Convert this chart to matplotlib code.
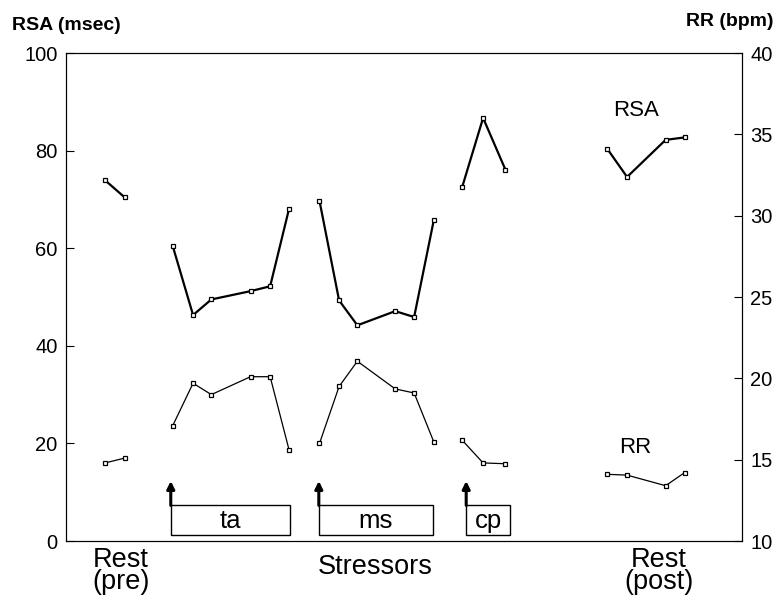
import matplotlib
matplotlib.use("Agg")
import matplotlib.pyplot as plt

plt.rcParams['font.family'] = ['Liberation Sans', 'DejaVu Sans']

# x positions (arbitrary time units, 0-100 across the axis)
x_pre = [5.8, 8.7]
x_ta = [15.8, 18.8, 21.5, 27.3, 30.2, 33.0]
x_ms = [37.5, 40.4, 43.1, 48.7, 51.5, 54.4]
x_cp = [58.6, 61.7, 65.0]
x_post = [80.1, 83.0, 88.7, 91.5]

# RSA (msec), left axis
rsa_pre = [73.9, 70.4]
rsa_ta = [60.4, 46.3, 49.5, 51.2, 52.2, 68.1]
rsa_ms = [69.7, 49.3, 44.2, 47.1, 45.9, 65.7]
rsa_cp = [72.5, 86.7, 76.1]
rsa_post = [80.3, 74.6, 82.2, 82.7]

# RR (bpm), right axis
rr_pre = [14.8, 15.1]
rr_ta = [17.1, 19.7, 19.0, 20.1, 20.1, 15.6]
rr_ms = [16.0, 19.5, 21.05, 19.35, 19.1, 16.1]
rr_cp = [16.2, 14.8, 14.75]
rr_post = [14.1, 14.05, 13.4, 14.2]

# stressor boxes: label, start, end
box_labels = ["ta", "ms", "cp"]
box_start = [15.5, 37.4, 59.2]
box_end = [33.1, 54.3, 65.7]

fig = plt.figure(figsize=(7.8, 5.97), dpi=100)
ax = fig.add_axes([0.0846, 0.0938, 0.8667, 0.8174])
ax2 = ax.twinx()

xs = [x_pre, x_ta, x_ms, x_cp, x_post]
for x, r in zip(xs, [rsa_pre, rsa_ta, rsa_ms, rsa_cp, rsa_post]):
    ax.plot(x, r, color='black', linewidth=1.6, marker='s', markersize=3.5,
            markerfacecolor='white', markeredgewidth=0.9)
for x, r in zip(xs, [rr_pre, rr_ta, rr_ms, rr_cp, rr_post]):
    ax2.plot(x, r, color='black', linewidth=0.9, marker='s', markersize=3.5,
             markerfacecolor='white', markeredgewidth=0.9)

# boxes with arrows
for lab, s, e in zip(box_labels, box_start, box_end):
    ax.add_patch(plt.Rectangle((s, 1.3), e - s, 6.0, fill=False,
                               edgecolor='black', linewidth=1.0))
    ax.text((s + e) / 2, 4.2, lab, ha='center', va='center', fontsize=18.5)
    ax.annotate("", xy=(s, 12.3), xytext=(s, 7.3),
                arrowprops=dict(arrowstyle='-|>', color='black', lw=2.2,
                                mutation_scale=11, shrinkA=0, shrinkB=0))

ax.set_xlim(0, 100)
ax.set_ylim(0, 100)
ax2.set_ylim(10, 40)
ax.set_xticks([])
ax.set_yticks([0, 20, 40, 60, 80, 100])
ax2.set_yticks([10, 15, 20, 25, 30, 35, 40])
ax.tick_params(axis='y', direction='in', length=6, labelsize=14.5, pad=6)
ax2.tick_params(axis='y', direction='in', length=6, labelsize=14.5, pad=6)

ax.text(84.4, 88.3, "RSA", fontsize=16, ha='center', va='center')
ax.text(84.2, 19.2, "RR", fontsize=16, ha='center', va='center')

tr = ax.get_xaxis_transform()
ax.text(8.1, -0.012, "Rest\n(pre)", transform=tr, ha='center', va='top',
        fontsize=19.5, linespacing=0.8)
ax.text(45.8, -0.026, "Stressors", transform=tr, ha='center', va='top',
        fontsize=19.5)
ax.text(87.7, -0.012, "Rest\n(post)", transform=tr, ha='center', va='top',
        fontsize=19.5, linespacing=0.8)

fig.text(12 / 780, 1 - 25 / 597, "RSA (msec)", ha='left', va='center',
         fontsize=14, fontweight='bold')
fig.text(773 / 780, 1 - 22 / 597, "RR (bpm)", ha='right', va='center',
         fontsize=14, fontweight='bold')

fig.savefig("out.png", dpi=100)
